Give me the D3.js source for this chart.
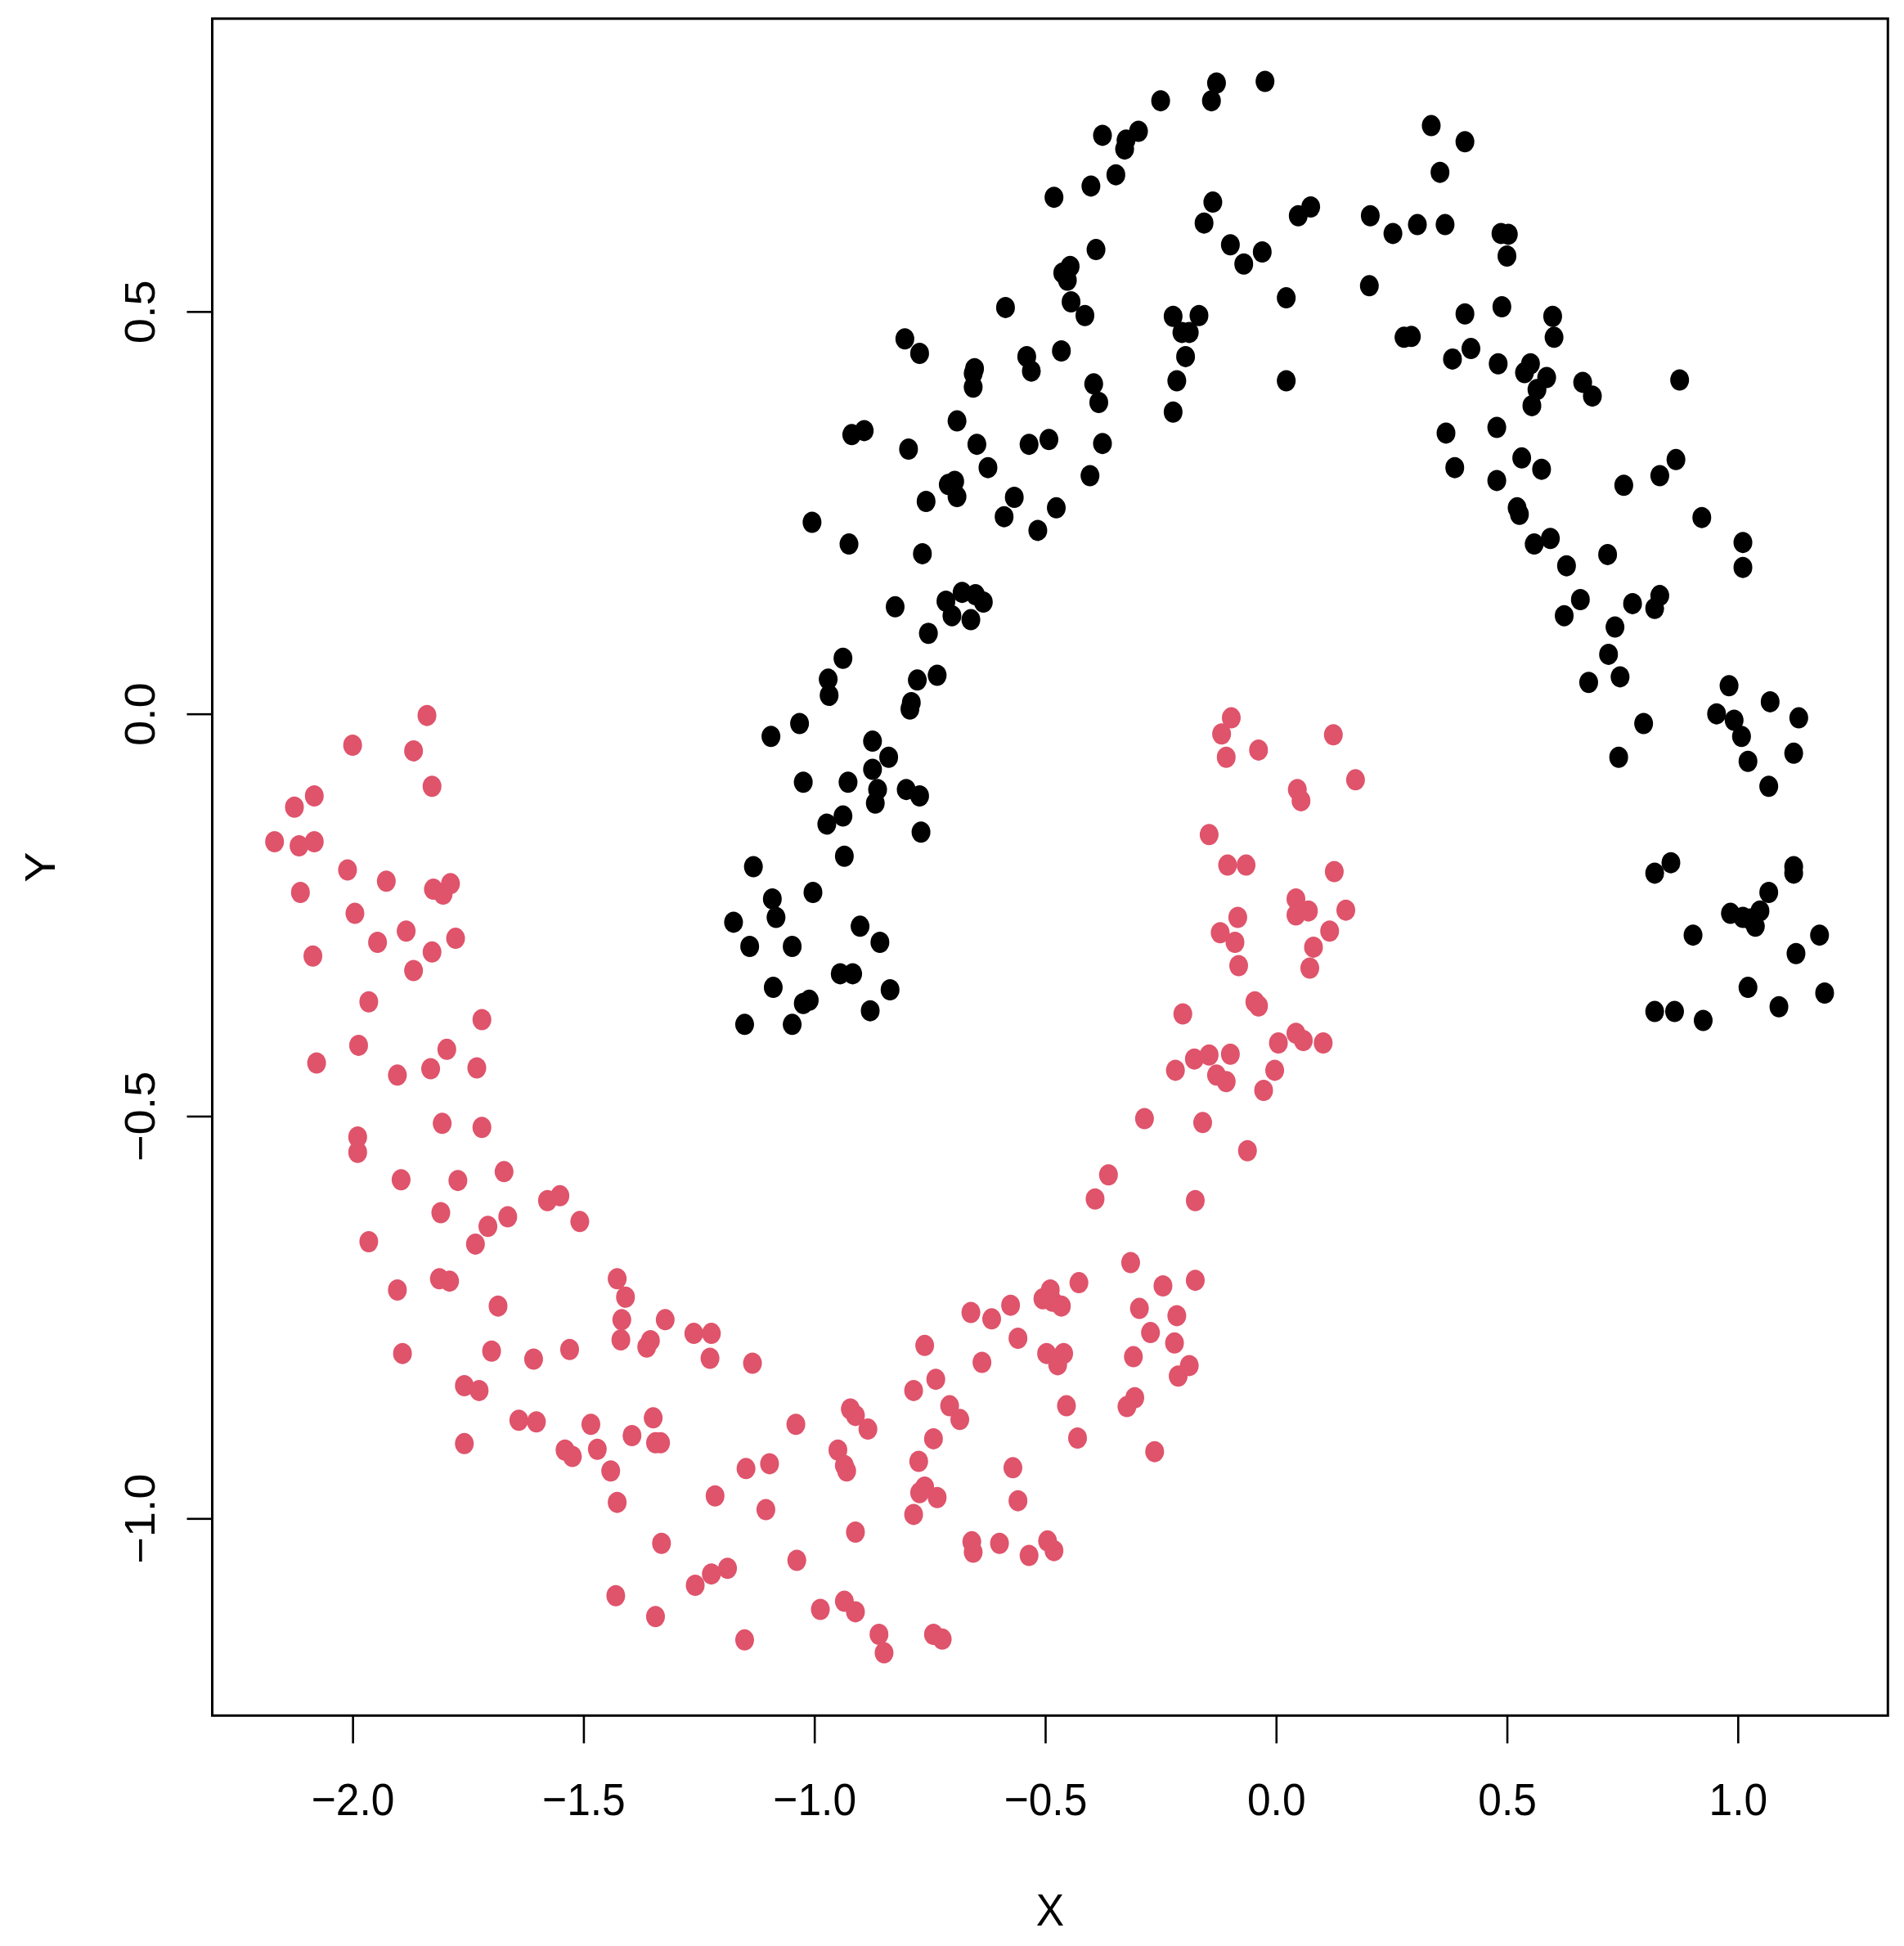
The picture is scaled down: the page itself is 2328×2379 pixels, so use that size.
<!DOCTYPE html>
<html>
<head>
<meta charset="utf-8">
<script src="https://cdn.jsdelivr.net/npm/d3@7"></script>
<style>
  html, body { margin: 0; padding: 0; background: #ffffff; }
  svg { display: block; }
  text { font-family: "Liberation Sans", Arial, Helvetica, sans-serif; fill: #000; }
</style>
</head>
<body>
<script>
// ---- Data ----
const seriesNames = ["upper moon", "lower moon"];
const seriesColors = ["#000000", "#DF536B"];

const blackX = [-0.024,-0.129,-0.140,-0.250,-0.298,-0.325,-0.328,-0.376,-0.347,-0.401,-0.481,-0.137,-0.156,-0.390,-0.099,-0.030,-0.070,-0.446,-0.462,-0.452,-0.444,-0.414,-0.586,-0.223,-0.167,-0.188,-0.204,-0.196,-0.215,-0.223,0.022,0.022,0.048,0.075,-0.804,-0.772,-0.540,-0.530,-0.465,-0.653,-0.656,-0.656,-0.395,-0.384,-0.919,-0.892,-0.691,-0.648,-0.796,-0.535,-0.492,-0.376,-0.624,-0.403,-0.710,-0.696,-0.691,-0.758,-0.567,-0.476,-0.589,-0.516,-1.005,-0.925,-0.766,-0.680,-0.651,-0.715,-0.634,-0.825,-0.702,-0.661,-0.753,-0.938,-0.970,-0.968,-0.734,-0.777,-0.790,-0.793,-1.032,-1.094,-0.874,-0.839,-0.874,-1.024,-0.927,-0.863,-0.868,-0.801,-0.772,-0.769,-0.973,-0.938,-0.935,-1.132,-1.091,-1.003,-1.083,-1.175,-0.901,-1.140,-1.048,-0.858,-0.944,-0.917,-1.089,-0.836,-1.011,-1.024,-0.879,-1.151,-1.048,
0.336,0.409,0.355,0.204,0.253,0.306,0.366,0.202,0.487,0.503,0.500,0.489,0.409,0.599,0.277,0.293,0.602,0.422,0.382,0.481,0.551,0.538,0.586,0.565,0.554,0.664,0.685,0.874,0.478,0.368,0.387,0.532,0.575,0.478,0.753,0.831,0.866,0.522,0.527,0.922,0.559,0.594,1.011,1.011,0.718,0.629,0.659,0.624,0.772,0.831,0.820,0.734,0.720,0.677,0.745,0.981,0.954,0.992,1.070,1.132,0.796,1.008,0.742,1.022,1.121,1.067,0.820,0.855,1.121,1.121,1.067,0.984,1.027,1.038,1.048,1.011,0.903,1.177,1.126,1.022,1.188,0.820,0.863,0.925,1.089];
const blackY = [0.786,0.784,0.762,0.762,0.724,0.713,0.702,0.719,0.670,0.656,0.642,0.636,0.610,0.577,0.583,0.574,0.559,0.556,0.548,0.539,0.512,0.495,0.505,0.494,0.495,0.474,0.474,0.444,0.414,0.375,0.517,0.414,0.619,0.630,0.466,0.448,0.444,0.426,0.451,0.429,0.423,0.406,0.410,0.387,0.347,0.352,0.364,0.335,0.329,0.335,0.341,0.336,0.306,0.296,0.285,0.289,0.270,0.264,0.269,0.256,0.245,0.228,0.238,0.211,0.199,0.151,0.148,0.140,0.139,0.133,0.122,0.117,0.100,0.069,0.043,0.023,0.048,0.042,0.014,0.006,-0.012,-0.028,-0.034,-0.054,-0.069,-0.085,-0.085,-0.094,-0.111,-0.094,-0.102,-0.147,-0.137,-0.127,-0.177,-0.190,-0.230,-0.222,-0.253,-0.259,-0.264,-0.289,-0.289,-0.284,-0.323,-0.323,-0.340,-0.343,-0.356,-0.360,-0.369,-0.386,-0.386,
0.731,0.711,0.673,0.619,0.597,0.608,0.608,0.532,0.597,0.596,0.569,0.506,0.497,0.494,0.468,0.469,0.468,0.454,0.441,0.435,0.435,0.424,0.418,0.403,0.383,0.412,0.395,0.415,0.356,0.349,0.306,0.318,0.304,0.290,0.284,0.296,0.316,0.256,0.248,0.244,0.211,0.218,0.213,0.182,0.198,0.184,0.142,0.122,0.137,0.147,0.131,0.108,0.074,0.039,0.046,0.035,0.000,-0.008,0.015,-0.005,-0.012,-0.028,-0.054,-0.059,-0.049,-0.090,-0.198,-0.185,-0.190,-0.198,-0.222,-0.248,-0.255,-0.264,-0.245,-0.253,-0.275,-0.275,-0.298,-0.340,-0.347,-0.370,-0.370,-0.381,-0.364];

const redX = [-2.169,-2.126,-2.116,-2.083,-2.083,-2.113,-2.086,-2.078,-2.000,-2.011,-1.995,-1.927,-1.868,-1.839,-1.828,-1.825,-1.804,-1.788,-1.946,-1.884,-1.828,-1.868,-1.777,-1.965,-1.987,-1.720,-1.796,-1.831,-1.903,-1.731,-1.720,-1.806,-1.989,-1.989,-1.895,-1.772,-1.672,-1.809,-1.965,-1.734,-1.707,-1.664,-1.578,-1.551,-1.508,-1.812,-1.790,-1.903,-1.685,-1.892,-1.699,
-1.608,-1.530,-1.758,-1.726,-1.640,-1.602,-1.758,-1.484,-1.540,-1.524,-1.470,
-1.427,-1.409,-1.417,-1.419,-1.363,-1.355,-1.323,-1.261,-1.223,-1.226,-1.134,-1.349,-1.395,-1.344,-1.333,-1.441,-1.427,-1.331,-1.430,-1.344,-1.258,-1.223,-1.188,
-1.215,-1.148,-1.105,-1.097,-1.040,-1.038,-1.151,-0.987,-0.949,-0.935,-0.930,-0.922,-0.911,-0.884,-0.911,-0.935,-0.911,-0.860,-0.849,-0.742,-0.723,
-0.785,-0.737,-0.707,-0.685,-0.761,-0.774,-0.742,-0.761,-0.772,-0.734,-0.785,
-0.661,-0.616,-0.575,-0.559,-0.637,-0.659,-0.656,-0.599,-0.570,-0.559,-0.535,-0.495,-0.481,
-0.505,-0.489,-0.484,-0.465,-0.427,-0.497,-0.460,-0.473,-0.454,-0.430,
-0.392,-0.363,-0.315,-0.296,-0.272,-0.245,-0.309,-0.306,-0.323,-0.263,-0.215,-0.220,-0.212,-0.188,-0.175,
-0.285,-0.202,-0.218,-0.177,-0.145,-0.175,-0.159,-0.129,-0.099,-0.108,-0.062,-0.027,-0.003,0.005,0.043,0.059,0.102,-0.046,-0.038,0.073,-0.081,0.081,0.116,0.151,0.043,0.043,0.070,-0.083,-0.121,-0.089,0.126,-0.105,-0.065,-0.145,0.046,0.054,0.172,0.124,-0.038,-0.108,-0.118,-0.097];
const redY = [-0.159,-0.116,-0.164,-0.102,-0.159,-0.222,-0.301,-0.434,-0.039,-0.194,-0.248,-0.208,-0.046,-0.002,-0.090,-0.218,-0.224,-0.211,-0.284,-0.270,-0.296,-0.319,-0.279,-0.358,-0.412,-0.380,-0.417,-0.441,-0.449,-0.440,-0.514,-0.509,-0.526,-0.545,-0.579,-0.580,-0.569,-0.620,-0.656,-0.659,-0.637,-0.625,-0.605,-0.599,-0.631,-0.702,-0.705,-0.716,-0.736,-0.795,-0.792,
-0.802,-0.790,-0.835,-0.841,-0.878,-0.880,-0.907,-0.883,-0.915,-0.923,-0.914,
-0.702,-0.725,-0.753,-0.778,-0.787,-0.779,-0.753,-0.770,-0.770,-0.801,-0.807,-0.875,-0.897,-0.906,-0.906,-0.941,-0.980,-1.031,-1.096,-1.122,-1.083,-1.069,-1.062,
-0.972,-0.938,-0.989,-0.932,-0.883,-1.052,-1.151,-1.113,-0.915,-0.934,-0.941,-0.864,-0.872,-0.889,-1.017,-1.103,-1.116,-1.144,-1.167,-1.144,-1.150,
-0.841,-0.827,-0.860,-0.877,-0.785,-0.929,-0.901,-0.961,-0.968,-0.974,-0.995,
-0.744,-0.752,-0.735,-0.776,-0.806,-1.029,-1.042,-1.031,-0.937,-0.978,-1.046,-1.028,-1.040,
-0.727,-0.716,-0.730,-0.736,-0.707,-0.795,-0.795,-0.809,-0.860,-0.900,
-0.603,-0.573,-0.682,-0.739,-0.769,-0.711,-0.799,-0.850,-0.861,-0.917,-0.748,-0.782,-0.823,-0.810,-0.704,
-0.503,-0.373,-0.443,-0.429,-0.424,-0.605,-0.508,-0.449,-0.423,-0.457,-0.543,-0.468,-0.443,-0.409,-0.397,-0.406,-0.409,-0.358,-0.363,-0.316,-0.313,-0.290,-0.270,-0.244,-0.230,-0.250,-0.245,-0.253,-0.272,-0.284,-0.196,-0.188,-0.188,-0.150,-0.094,-0.108,-0.082,-0.026,-0.045,-0.054,-0.025,-0.005];

const xTicks = [-2.0, -1.5, -1.0, -0.5, 0.0, 0.5, 1.0];
const yTicks = [-1.0, -0.5, 0.0, 0.5];
const xTitle = "X";
const yTitle = "Y";

// ---- Layout ----
const W = 2328, H = 2379;
const plot = { left: 259.5, right: 2308.3, top: 22.8, bottom: 2097.3 };
const xlim = [-2.304, 1.325];
const ylim = [-1.245, 0.864];
const textSX = 0.92;

const svg = d3.select("body").append("svg")
  .attr("width", W).attr("height", H)
  .attr("viewBox", `0 0 ${W} ${H}`);

const x = d3.scaleLinear().domain(xlim).range([plot.left, plot.right]);
const y = d3.scaleLinear().domain(ylim).range([plot.bottom, plot.top]);

const series = [
  { name: seriesNames[0], color: seriesColors[0], xs: blackX, ys: blackY },
  { name: seriesNames[1], color: seriesColors[1], xs: redX, ys: redY }
];
series.forEach(s => {
  const pts = s.xs.map((v, i) => [v, s.ys[i]]);
  svg.append("g").selectAll("ellipse").data(pts).join("ellipse")
    .attr("cx", d => x(d[0]))
    .attr("cy", d => y(d[1]))
    .attr("rx", 11.5)
    .attr("ry", 13)
    .attr("fill", s.color);
});

svg.append("rect")
  .attr("x", plot.left).attr("y", plot.top)
  .attr("width", plot.right - plot.left).attr("height", plot.bottom - plot.top)
  .attr("fill", "none").attr("stroke", "#000").attr("stroke-width", 3);

const fmt = d3.format(".1f");

const gx = svg.append("g").attr("transform", `translate(0,${plot.bottom})`)
  .call(d3.axisBottom(x).tickValues(xTicks).tickSize(34).tickFormat(fmt));
gx.select(".domain").remove();
gx.selectAll(".tick line").attr("stroke", "#000").attr("stroke-width", 2.6);
gx.selectAll(".tick text")
  .attr("y", null).attr("dy", null)
  .attr("font-size", 56)
  .attr("text-anchor", "middle")
  .attr("transform", `translate(0,${2219 - plot.bottom}) scale(${textSX},1)`);

const gy = svg.append("g").attr("transform", `translate(${plot.left},0)`)
  .call(d3.axisLeft(y).tickValues(yTicks).tickSize(31).tickFormat(fmt));
gy.select(".domain").remove();
gy.selectAll(".tick line").attr("stroke", "#000").attr("stroke-width", 2.6);
gy.selectAll(".tick text")
  .attr("x", null).attr("dy", null)
  .attr("font-size", 56)
  .attr("text-anchor", "middle")
  .attr("transform", `translate(${189 - plot.left},0) scale(${textSX},1) rotate(-90)`);

svg.selectAll(".tick text").attr("font-family", "'Liberation Sans', Arial, Helvetica, sans-serif").attr("fill", "#000");

svg.append("text")
  .attr("text-anchor", "middle")
  .attr("font-size", 56)
  .attr("transform", `translate(${(plot.left + plot.right) / 2},2354) scale(${textSX},1)`)
  .text(xTitle);
svg.append("text")
  .attr("text-anchor", "middle")
  .attr("font-size", 56)
  .attr("transform", `translate(67,${(plot.top + plot.bottom) / 2}) scale(${textSX},1) rotate(-90)`)
  .text(yTitle);
</script>
</body>
</html>
